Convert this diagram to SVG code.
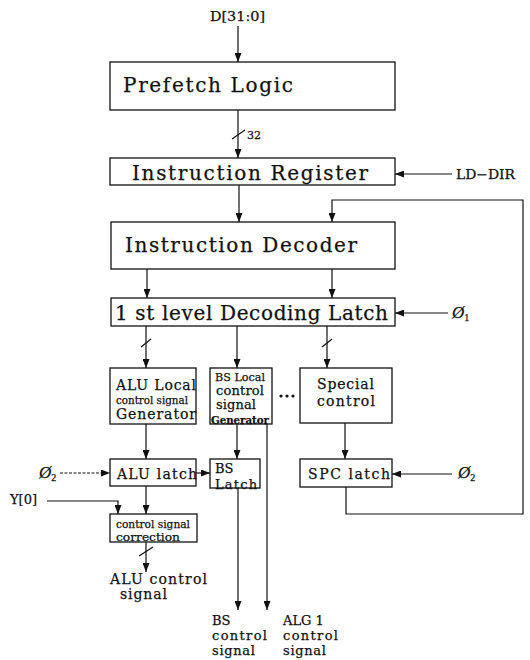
<svg xmlns="http://www.w3.org/2000/svg" width="530" height="660" viewBox="0 0 530 660">
  <defs>
    <marker id="arr" markerWidth="9" markerHeight="7" refX="9" refY="3.5" orient="auto" markerUnits="userSpaceOnUse">
      <path d="M0,0 L9,3.5 L0,7 z" fill="#111"/>
    </marker>
    <style>
      .box { fill: #fff; stroke: #111; stroke-width: 1.3; }
      .ln { fill: none; stroke: #111; stroke-width: 1.2; }
      .ar { fill: none; stroke: #111; stroke-width: 1.2; marker-end: url(#arr); }
      text { font-family: "DejaVu Serif", "Liberation Serif", serif; fill: #111; stroke: #111; stroke-width: 0.25; }
      .big { font-size: 20px; }
      .mid { font-size: 14px; }
      .sm { font-size: 11px; }
      .lbl { font-size: 13px; }
      .phi { font-family: "Liberation Serif", "DejaVu Serif", serif; font-size: 17px; font-style: italic; }
    </style>
  </defs>

  <rect width="530" height="660" fill="#fff"/>

  <!-- signal lines between blocks -->
  <g id="connectors">
    <line class="ar" x1="238" y1="26" x2="238" y2="62"/>
    <line class="ar" x1="238" y1="110" x2="238" y2="158"/>
    <line class="ln" x1="232" y1="139" x2="245" y2="130"/>
    <line class="ar" x1="452" y1="174" x2="395" y2="174"/>
    <line class="ar" x1="239" y1="185" x2="239" y2="222"/>
    <polyline class="ar" points="346,487 346,514 523,514 523,200 332,200 332,222"/>
    <line class="ar" x1="147" y1="269" x2="147" y2="298"/>
    <line class="ar" x1="332" y1="269" x2="332" y2="298"/>
    <line class="ar" x1="448" y1="313" x2="395" y2="313"/>
    <line class="ar" x1="146" y1="326" x2="146" y2="368"/>
    <line class="ln" x1="141" y1="347" x2="151" y2="339"/>
    <line class="ar" x1="237" y1="326" x2="237" y2="368"/>
    <line class="ar" x1="327" y1="326" x2="327" y2="368"/>
    <line class="ln" x1="322" y1="347" x2="332" y2="339"/>
    <line class="ar" x1="146" y1="424" x2="146" y2="459"/>
    <line class="ar" x1="237" y1="424" x2="237" y2="459"/>
    <line class="ar" x1="345" y1="423" x2="345" y2="459"/>
    <line class="ar" x1="60" y1="473" x2="110" y2="473" stroke-dasharray="3 1.5"/>
    <line class="ar" x1="196" y1="473" x2="210" y2="473"/>
    <line class="ar" x1="452" y1="474" x2="392" y2="474"/>
    <polyline class="ar" points="47,501 118,501 118,514"/>
    <line class="ar" x1="146" y1="486" x2="146" y2="514"/>
    <line class="ar" x1="146" y1="542" x2="146" y2="572"/>
    <line class="ln" x1="139" y1="556" x2="153" y2="547"/>
    <line class="ar" x1="238" y1="488" x2="238" y2="610"/>
    <line class="ar" x1="267" y1="424" x2="267" y2="610"/>
  </g>

  <g id="prefetch">
    <rect class="box" x="110" y="62" width="285" height="48"/>
    <text class="big" x="123" y="92" textLength="170" lengthAdjust="spacing">Prefetch Logic</text>
  </g>

  <g id="ir">
    <rect class="box" x="110" y="158" width="285" height="27"/>
    <text class="big" x="132" y="180" font-size="18" textLength="236" lengthAdjust="spacing">Instruction Register</text>
  </g>

  <g id="decoder">
    <rect class="box" x="111" y="222" width="284" height="47"/>
    <text class="big" x="125" y="252" textLength="232" lengthAdjust="spacing">Instruction Decoder</text>
  </g>

  <g id="latch1">
    <rect class="box" x="111" y="298" width="284" height="28"/>
    <text class="big" x="115" y="320" font-size="19" textLength="273" lengthAdjust="spacing">1 st level Decoding Latch</text>
  </g>

  <g id="alu-gen">
    <rect class="box" x="110" y="368" width="86" height="56"/>
    <text class="mid" x="116" y="390" textLength="80" lengthAdjust="spacing">ALU Local</text>
    <text class="sm" x="116" y="404" textLength="72" lengthAdjust="spacingAndGlyphs">control signal</text>
    <text class="mid" x="116" y="419" textLength="80" lengthAdjust="spacing">Generator</text>
  </g>

  <g id="bs-gen">
    <rect class="box" x="210" y="368" width="62" height="56"/>
    <text class="sm" x="215" y="381" textLength="50" lengthAdjust="spacingAndGlyphs">BS Local</text>
    <text class="lbl" x="216" y="395" textLength="48" lengthAdjust="spacing">control</text>
    <text class="lbl" x="216" y="409" textLength="40" lengthAdjust="spacing">signal</text>
    <text class="sm" x="211" y="424" font-weight="bold" textLength="58" lengthAdjust="spacingAndGlyphs">Generator</text>
  </g>

  <g id="dots">
    <circle cx="281" cy="396" r="1.6" fill="#111"/>
    <circle cx="287" cy="396" r="1.6" fill="#111"/>
    <circle cx="293" cy="396" r="1.6" fill="#111"/>
  </g>

  <g id="special">
    <rect class="box" x="300" y="368" width="92" height="55"/>
    <text class="mid" x="317" y="389" font-size="15" textLength="57" lengthAdjust="spacing">Special</text>
    <text class="mid" x="317" y="406" font-size="15" textLength="58" lengthAdjust="spacing">control</text>
  </g>

  <g id="alu-latch">
    <rect class="box" x="110" y="459" width="86" height="27"/>
    <text class="mid" x="117" y="479" textLength="80" lengthAdjust="spacing">ALU latch</text>
  </g>

  <g id="bs-latch">
    <rect class="box" x="210" y="459" width="50" height="29"/>
    <text class="lbl" x="215" y="473">BS</text>
    <text class="lbl" x="215" y="489" textLength="42" lengthAdjust="spacing">Latch</text>
  </g>

  <g id="spc-latch">
    <rect class="box" x="300" y="459" width="92" height="28"/>
    <text class="mid" x="308" y="479" textLength="82" lengthAdjust="spacing">SPC latch</text>
  </g>

  <g id="correction">
    <rect class="box" x="110" y="514" width="87" height="28"/>
    <text class="sm" x="116" y="528" textLength="74" lengthAdjust="spacingAndGlyphs">control signal</text>
    <text class="sm" x="116" y="541" textLength="64" lengthAdjust="spacingAndGlyphs">correction</text>
  </g>

  <!-- external signal names -->
  <g id="labels">
    <text class="lbl" x="210" y="21" textLength="55" lengthAdjust="spacingAndGlyphs">D[31:0]</text>
    <text class="sm" x="247" y="139" font-size="12">32</text>
    <text class="lbl" x="456" y="179" textLength="59" lengthAdjust="spacingAndGlyphs">LD−DIR</text>
    <text class="phi" x="452" y="318">Ø<tspan font-size="10" font-style="normal" dy="3">1</tspan></text>
    <text class="phi" x="39" y="478">Ø<tspan font-size="10" font-style="normal" dy="3">2</tspan></text>
    <text class="phi" x="458" y="478">Ø<tspan font-size="10" font-style="normal" dy="3">2</tspan></text>
    <text class="lbl" x="10" y="504" font-size="14">Y[0]</text>
    <text class="mid" x="110" y="584" textLength="97" lengthAdjust="spacing">ALU control</text>
    <text class="mid" x="120" y="599" textLength="47" lengthAdjust="spacing">signal</text>
    <text class="lbl" x="212" y="625">BS</text>
    <text class="lbl" x="212" y="640" textLength="55" lengthAdjust="spacing">control</text>
    <text class="lbl" x="212" y="655" textLength="43" lengthAdjust="spacing">signal</text>
    <text class="lbl" x="283" y="625">ALG 1</text>
    <text class="lbl" x="283" y="640" textLength="55" lengthAdjust="spacing">control</text>
    <text class="lbl" x="283" y="655" textLength="43" lengthAdjust="spacing">signal</text>
  </g>
</svg>
